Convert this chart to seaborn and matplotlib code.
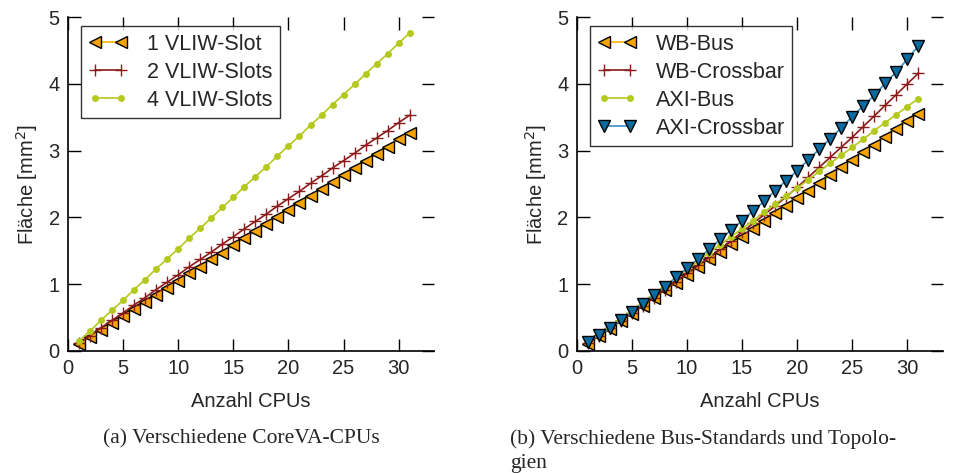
import matplotlib
matplotlib.use("Agg")
import matplotlib.pyplot as plt
import seaborn as sns
import pandas as pd

cpus = list(range(1, 32))

# (a) Verschiedene CoreVA-CPUs
vliw_1 = [0.10, 0.21, 0.31, 0.42, 0.52, 0.63, 0.73, 0.84, 0.95, 1.05, 1.16, 1.26, 1.37, 1.47, 1.58, 1.69,
          1.79, 1.90, 2.00, 2.11, 2.21, 2.32, 2.43, 2.53, 2.64, 2.74, 2.85, 2.95, 3.06, 3.17, 3.27]
vliw_2 = [0.12, 0.23, 0.35, 0.46, 0.57, 0.69, 0.80, 0.92, 1.03, 1.14, 1.26, 1.37, 1.48, 1.60, 1.71, 1.83,
          1.94, 2.05, 2.17, 2.28, 2.39, 2.51, 2.62, 2.74, 2.85, 2.96, 3.08, 3.19, 3.30, 3.42, 3.53]
vliw_4 = [0.15, 0.30, 0.46, 0.61, 0.76, 0.92, 1.07, 1.23, 1.38, 1.53, 1.69, 1.84, 1.99, 2.15, 2.30, 2.46,
          2.61, 2.76, 2.92, 3.07, 3.22, 3.38, 3.53, 3.69, 3.84, 3.99, 4.15, 4.30, 4.45, 4.61, 4.76]

# (b) Verschiedene Bus-Standards und Topologien
wb_bus = [0.10, 0.22, 0.33, 0.45, 0.56, 0.68, 0.79, 0.91, 1.02, 1.14, 1.25, 1.37, 1.48, 1.60, 1.71, 1.83,
          1.94, 2.06, 2.17, 2.29, 2.40, 2.52, 2.63, 2.75, 2.86, 2.98, 3.09, 3.21, 3.32, 3.44, 3.55]
wb_xbar = [0.12, 0.23, 0.34, 0.45, 0.57, 0.68, 0.80, 0.92, 1.04, 1.16, 1.28, 1.40, 1.52, 1.65, 1.78, 1.91,
           2.04, 2.17, 2.31, 2.45, 2.60, 2.75, 2.90, 3.05, 3.20, 3.36, 3.52, 3.68, 3.84, 4.00, 4.16]
axi_bus = [0.13, 0.25, 0.37, 0.49, 0.61, 0.73, 0.86, 0.98, 1.10, 1.22, 1.34, 1.47, 1.59, 1.71, 1.83, 1.95,
           2.08, 2.20, 2.32, 2.44, 2.56, 2.69, 2.81, 2.93, 3.05, 3.17, 3.30, 3.42, 3.54, 3.66, 3.78]
axi_xbar = [0.13, 0.24, 0.34, 0.46, 0.59, 0.71, 0.84, 0.96, 1.10, 1.24, 1.38, 1.52, 1.67, 1.81, 1.95, 2.10,
            2.24, 2.40, 2.55, 2.70, 2.86, 3.02, 3.18, 3.34, 3.51, 3.67, 3.83, 4.01, 4.18, 4.37, 4.57]

ORANGE = dict(color="#f4b400", marker="<", markersize=8, markerfacecolor="#f5a300",
              markeredgecolor="black", markeredgewidth=1.0, linewidth=1.2)
RED = dict(color="#8b1a1a", marker="+", markersize=8, markeredgecolor="#8b1a1a",
           markeredgewidth=1.0, linewidth=1.2)
GREEN = dict(color="#b5c81e", marker="o", markersize=5, markerfacecolor="#b5c81e",
             markeredgecolor="#b5c81e", markeredgewidth=0, linewidth=1.2)
BLUE = dict(color="#3a8fc8", marker="v", markersize=8.5, markerfacecolor="#0b6aa0",
            markeredgecolor="black", markeredgewidth=1.0, linewidth=1.2)

sns.set_theme(style="ticks")
plt.rcParams["font.family"] = ["Liberation Sans", "DejaVu Sans"]

FS = 14.5

fig = plt.figure(figsize=(9.58, 4.73), dpi=100)
ax_a = fig.add_axes([0.071, 0.258, 0.382, 0.706])
ax_b = fig.add_axes([0.602, 0.258, 0.382, 0.706])

panels = [
    (ax_a, [("1 VLIW-Slot", vliw_1, ORANGE), ("2 VLIW-Slots", vliw_2, RED), ("4 VLIW-Slots", vliw_4, GREEN)]),
    (ax_b, [("WB-Bus", wb_bus, ORANGE), ("WB-Crossbar", wb_xbar, RED),
            ("AXI-Bus", axi_bus, GREEN), ("AXI-Crossbar", axi_xbar, BLUE)]),
]

for ax, series in panels:
    for name, vals, style in series:
        df = pd.DataFrame({"cpus": cpus, "area": vals})
        sns.lineplot(data=df, x="cpus", y="area", ax=ax, label=name, clip_on=False, **style)
    ax.set_xlim(0, 33.2)
    ax.set_ylim(0, 5)
    ax.set_xticks(range(0, 31, 5))
    ax.set_yticks(range(0, 6))
    ax.tick_params(direction="in", top=True, right=True, length=9, width=1.0,
                   labelsize=FS, color="black", pad=6)
    for side in ["top", "right"]:
        ax.spines[side].set_visible(False)
    for side in ["left", "bottom"]:
        ax.spines[side].set_linewidth(1.2)
        ax.spines[side].set_color("black")
    ax.set_xlabel("Anzahl CPUs", fontsize=FS, labelpad=10)
    ax.set_ylabel("Fläche [mm$^2$]", fontsize=FS, labelpad=6)
    leg = ax.legend(loc="upper left", bbox_to_anchor=(0.036, 0.972), borderaxespad=0, numpoints=2,
                    handlelength=1.8, fontsize=15.5, frameon=True, fancybox=False, borderpad=0.35,
                    labelspacing=0.32, handletextpad=0.9)
    leg.get_frame().set_edgecolor("black")
    leg.get_frame().set_linewidth(1.0)

serif = ["Liberation Serif", "DejaVu Serif"]
fig.text(0.252, 0.062, "(a) Verschiedene CoreVA-CPUs", ha="center", va="baseline",
         fontsize=15.5, family=serif)
fig.text(0.532, 0.062, "(b) Verschiedene Bus-Standards und Topolo-", ha="left", va="baseline",
         fontsize=15.5, family=serif)
fig.text(0.532, 0.01, "gien", ha="left", va="baseline", fontsize=15.5, family=serif)

fig.savefig("out.png", dpi=100)
